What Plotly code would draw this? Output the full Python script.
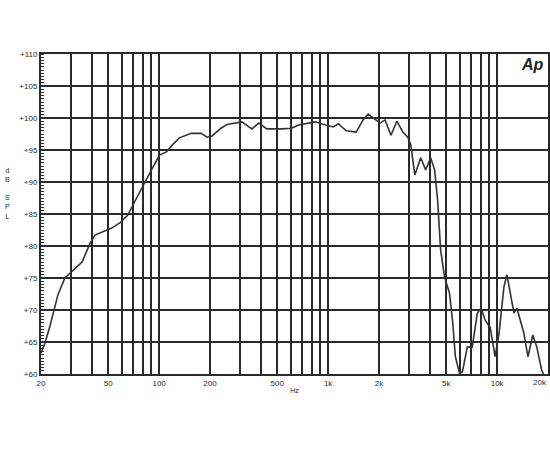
import plotly.graph_objects as go

# frequency response
freq_hz = [20, 21.1, 22.6, 23.6, 25.2, 27.7, 30.9, 35.0, 39.0, 41.7, 49.1, 52.4, 58.5,
           65.1, 73.6, 84.3, 91.4, 100.5, 110.5, 119.8, 131.7, 155.0, 177.4, 192.3,
           205.7, 232.4, 252.2, 308.8, 353.9, 389.0, 433.5, 531, 607.8, 668.2, 841.6,
           963.4, 1074, 1149, 1280, 1465, 1611, 1725, 1921, 2028, 2170, 2354, 2551,
           2769, 2961, 3085, 3258, 3531, 3778, 4044, 4268, 4444, 4631, 4883, 5228,
           5445, 5663, 5979, 6228, 6657, 7127, 7632, 8047, 8495, 9096, 9725, 10270,
           10970, 11430, 11920, 12580, 13090, 14390, 15220, 16260, 17170, 18350, 18800]
spl_db = [63.3, 64.8, 67.5, 69.5, 72.4, 75.0, 76.2, 77.5, 80.4, 81.7, 82.5, 82.8, 83.6,
          84.8, 87.5, 90.3, 92.2, 94.2, 94.7, 95.8, 96.9, 97.6, 97.6, 97.0,
          97.2, 98.4, 99.0, 99.4, 98.3, 99.2, 98.3, 98.3, 98.4, 98.9, 99.4,
          98.9, 98.6, 99.1, 98.0, 97.8, 99.7, 100.6, 99.7, 99.2, 99.7, 97.3, 99.5,
          97.8, 97.0, 95.8, 91.1, 93.8, 91.9, 93.8, 91.9, 87.2, 79.4, 75.2, 72.6,
          68.4, 62.7, 60.2, 60.3, 64.2, 64.2, 69.5, 70.3, 68.4, 67.3, 62.7, 66.4,
          73.6, 75.5, 73.1, 69.5, 70.3, 66.4, 62.7, 66.1, 64.2, 60.6, 60.0]

grid_hz = [20, 30, 40, 50, 60, 70, 80, 90, 100, 200, 300, 400, 500, 600, 700, 800, 900,
           1000, 2000, 3000, 4000, 5000, 6000, 7000, 8000, 9000, 10000, 20000]
labelled_hz = {20: "20", 50: "50", 100: "100", 200: "200", 500: "500", 1000: "1k",
               2000: "2k", 5000: "5k", 10000: "10k"}
db_ticks = [60, 65, 70, 75, 80, 85, 90, 95, 100, 105, 110]

ink = "#2a2a2a"

fig = go.Figure(go.Scatter(
    x=freq_hz, y=spl_db, mode="lines",
    line=dict(color="#333333", width=1.6), hoverinfo="skip",
))

fig.update_xaxes(
    type="log", range=[1.30103, 4.30103],
    tickvals=grid_hz, ticktext=[labelled_hz.get(f, "") for f in grid_hz],
    showgrid=True, gridcolor=ink, gridwidth=2,
    showline=True, linecolor=ink, linewidth=2, mirror=True,
    ticks="", tickfont=dict(family="Arial", size=8, color=ink),
    title=dict(text="Hz", font=dict(family="Arial", size=7, color=ink), standoff=2),
    zeroline=False,
)
fig.update_yaxes(
    range=[60, 110], tickvals=db_ticks, ticktext=["+%d" % v for v in db_ticks],
    showgrid=True, gridcolor=ink, gridwidth=2,
    showline=True, linecolor=ink, linewidth=2, mirror=True,
    ticks="", tickfont=dict(family="Arial", size=8, color=ink),
    minor=dict(dtick=0.5, ticks="inside", ticklen=3, tickcolor=ink, showgrid=False),
    zeroline=False,
)

# the last frequency label sits just inside the cropped right edge
fig.add_annotation(text="20k", xref="paper", yref="paper", x=0.984, y=0,
                   xanchor="center", yanchor="top", yshift=-2, showarrow=False,
                   font=dict(family="Arial", size=8, color=ink))
fig.add_annotation(text="d<br>B<br><br>S<br>P<br>L", xref="paper", yref="paper",
                   x=-0.066, y=0.565, xanchor="center", yanchor="middle", showarrow=False,
                   font=dict(family="Arial", size=7, color=ink))
fig.add_annotation(text="<b><i>Ap</i></b>", xref="paper", yref="paper",
                   x=0.996, y=1.0, xanchor="right", yanchor="top", showarrow=False,
                   font=dict(family="Arial", size=16, color="#222222"))

# plot runs right up to the window edge, as in the cropped scan
fig.update_layout(
    width=550, height=450,
    margin=dict(l=41, r=0, t=54, b=76),
    paper_bgcolor="white", plot_bgcolor="white",
    showlegend=False,
)

# drop the default page margin so the 550x450 figure fits the window exactly
fig.write_html("out.html", config={"displayModeBar": False},
               post_script="document.body.style.margin='0';")
